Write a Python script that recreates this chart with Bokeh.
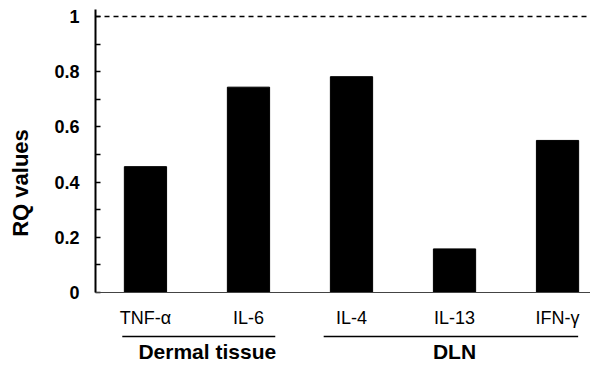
from bokeh.plotting import figure
from bokeh.models import Range1d, FixedTicker, Span, ColumnDataSource
from bokeh.core.properties import value
from bokeh.embed import file_html
from bokeh.resources import INLINE

# ---- data ----
categories = ["TNF-α", "IL-6", "IL-4", "IL-13", "IFN-γ"]
rq_values = [0.456, 0.744, 0.782, 0.158, 0.551]
groups = ["Dermal tissue", "DLN"]
group_starts = [-0.225, 1.73]
group_ends = [1.26, 4.2]
group_centers = [0.6, 3.0]
y_ticks = [0, 0.2, 0.4, 0.6, 0.8, 1.0]
y_tick_labels = ["0", "0.2", "0.4", "0.6", "0.8", "1"]
y_minor = [0.1, 0.3, 0.5, 0.7, 0.9]
reference_level = 1.0

FONT = "Liberation Sans"

# layout positions (in data units, below the zero line)
cat_label_y = -0.0942
underline_y = -0.1594
group_label_y = -0.2138

xs = list(range(len(categories)))
src = ColumnDataSource(dict(x=xs, top=rq_values))

p = figure(width=590, height=365, output_backend="svg", toolbar_location=None,
           x_range=Range1d(-0.485, 4.32), y_range=Range1d(-0.2645, 1.058),
           x_axis_location=None,
           min_border_left=95, min_border_right=0, min_border_top=0, min_border_bottom=0)
p.outline_line_color = None
p.xgrid.visible = False
p.ygrid.visible = False
p.background_fill_color = "white"
p.border_fill_color = "white"

p.vbar(x="x", top="top", width=0.41, bottom=0, source=src,
       fill_color="black", line_color="black")

# x axis line at zero
p.add_layout(Span(location=0, dimension="width", line_color="#444444", line_width=1))

# dashed reference line at 1
p.add_layout(Span(location=reference_level, dimension="width", line_color="black",
                  line_width=1.6, line_dash="5 4"))

# y axis
ya = p.yaxis[0]
ya.ticker = FixedTicker(ticks=y_ticks, minor_ticks=y_minor)
ya.major_label_overrides = {t: l for t, l in zip(y_ticks, y_tick_labels)}
ya.bounds = (0, 1.025)
ya.axis_line_width = 2
ya.axis_line_color = "black"
ya.major_tick_in = 5
ya.major_tick_out = 0
ya.minor_tick_in = 5
ya.minor_tick_out = 0
ya.major_tick_line_width = 1.5
ya.minor_tick_line_width = 1.5
ya.major_label_standoff = 16
ya.major_label_text_font = FONT
ya.major_label_text_font_style = "bold"
ya.major_label_text_font_size = "18px"
ya.major_label_text_color = "black"
ya.axis_label = "RQ values"
ya.axis_label_text_font = FONT
ya.axis_label_text_font_style = "bold"
ya.axis_label_text_font_size = "22px"
ya.axis_label_standoff = 18
ya.axis_label_text_color = "black"

# category labels
p.text(x=xs, y=[cat_label_y] * len(xs), text=categories,
       text_align="center", text_baseline="middle",
       text_font=value(FONT), text_font_size="18px", text_color="black")

# group underlines and labels
p.segment(x0=group_starts, y0=[underline_y] * 2, x1=group_ends, y1=[underline_y] * 2,
          line_color="black", line_width=1.5)
p.text(x=group_centers, y=[group_label_y] * 2, text=groups,
       text_align="center", text_baseline="middle",
       text_font=value(FONT), text_font_style="bold", text_font_size="21px",
       text_color="black")

open("out.html", "w").write(file_html(p, INLINE))
